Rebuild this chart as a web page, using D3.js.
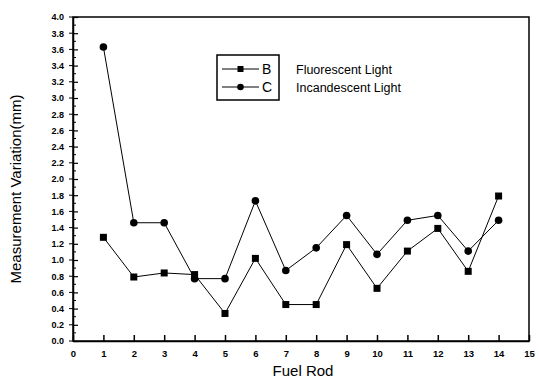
<!DOCTYPE html>
<html>
<head>
<meta charset="utf-8">
<script src="https://cdn.jsdelivr.net/npm/d3@7"></script>
<style>
  body { margin: 0; background: #fff; }
  text { font-family: Arial, "Liberation Sans", sans-serif; }
</style>
</head>
<body>
<svg id="chart" width="539" height="382"></svg>
<script>
// data
var rods = [1, 2, 3, 4, 5, 6, 7, 8, 9, 10, 11, 12, 13, 14];
var fluorescent = [1.28, 0.79, 0.84, 0.82, 0.34, 1.02, 0.45, 0.45, 1.19, 0.65, 1.11, 1.39, 0.86, 1.79];
var incandescent = [3.63, 1.46, 1.46, 0.77, 0.77, 1.73, 0.87, 1.15, 1.55, 1.07, 1.49, 1.55, 1.11, 1.49];
var xTicks = d3.range(0, 16);
var yTicks = d3.range(0, 4.01, 0.2);

var margin = {top: 17, right: 10, bottom: 41, left: 73};
var width = 539, height = 382;

var svg = d3.select("#chart");

var x = d3.scaleLinear().domain([0, 15]).range([margin.left, width - margin.right]);
var y = d3.scaleLinear().domain([0, 4]).range([height - margin.bottom, margin.top]);

// frame
svg.append("rect")
  .attr("x", x(0)).attr("y", y(4))
  .attr("width", x(15) - x(0)).attr("height", y(0) - y(4))
  .attr("fill", "none").attr("stroke", "#000").attr("stroke-width", 1.5);

// x axis, ticks pointing in
var xAxis = svg.append("g")
  .attr("transform", "translate(0," + y(0) + ")")
  .call(d3.axisBottom(x).tickValues(xTicks).tickSizeInner(-6).tickSizeOuter(0).tickPadding(9).tickFormat(d3.format("d")));
xAxis.select(".domain").attr("stroke-width", 1.5);
xAxis.selectAll(".tick line").attr("stroke-width", 1.5);
xAxis.selectAll("text").attr("font-size", 9.5).attr("font-weight", "bold").attr("fill", "#000");

// y axis
var yAxis = svg.append("g")
  .attr("transform", "translate(" + x(0) + ",0)")
  .call(d3.axisLeft(y).tickValues(yTicks).tickSizeInner(-5).tickSizeOuter(0).tickPadding(9).tickFormat(d3.format(".1f")));
yAxis.select(".domain").attr("stroke-width", 1.5);
yAxis.selectAll(".tick line").attr("stroke-width", 1.2);
yAxis.selectAll("text").attr("font-size", 9).attr("font-weight", "bold").attr("fill", "#000");

// minor y ticks
svg.append("g").selectAll("line")
  .data(d3.range(0.1, 4, 0.2))
  .enter().append("line")
  .attr("x1", x(0)).attr("x2", x(0) + 3)
  .attr("y1", function(d) { return y(d); })
  .attr("y2", function(d) { return y(d); })
  .attr("stroke", "#000");

// outer small tick marks on left of y axis
svg.append("g").selectAll("line")
  .data(yTicks)
  .enter().append("line")
  .attr("x1", x(0) - 4).attr("x2", x(0))
  .attr("y1", function(d) { return y(d); })
  .attr("y2", function(d) { return y(d); })
  .attr("stroke", "#000");

// axis titles
svg.append("text")
  .attr("x", (x(0) + x(15)) / 2 + 2).attr("y", height - 6)
  .attr("text-anchor", "middle").attr("font-size", 15)
  .text("Fuel Rod");

svg.append("text")
  .attr("transform", "translate(21," + ((y(0) + y(4)) / 2 + 10) + ") rotate(-90)")
  .attr("text-anchor", "middle").attr("font-size", 15)
  .text("Measurement Variation(mm)");

var line = d3.line()
  .x(function(d, i) { return x(rods[i]); })
  .y(function(d) { return y(d); });

svg.append("path").datum(fluorescent)
  .attr("d", line).attr("fill", "none").attr("stroke", "#000").attr("stroke-width", 1);
svg.append("path").datum(incandescent)
  .attr("d", line).attr("fill", "none").attr("stroke", "#000").attr("stroke-width", 1);

svg.append("g").selectAll("rect")
  .data(fluorescent)
  .enter().append("rect")
  .attr("x", function(d, i) { return x(rods[i]) - 3.5; })
  .attr("y", function(d) { return y(d) - 3.5; })
  .attr("width", 7).attr("height", 7)
  .attr("fill", "#000");

svg.append("g").selectAll("circle")
  .data(incandescent)
  .enter().append("circle")
  .attr("cx", function(d, i) { return x(rods[i]); })
  .attr("cy", function(d) { return y(d); })
  .attr("r", 3.8)
  .attr("fill", "#000");

// legend
var legend = svg.append("g").attr("transform", "translate(217,55)");
legend.append("rect")
  .attr("width", 62).attr("height", 45)
  .attr("fill", "#fff").attr("stroke", "#000").attr("stroke-width", 1.5);

var items = [
  {key: "B", name: "Fluorescent Light", shape: "square", y: 14},
  {key: "C", name: "Incandescent Light", shape: "circle", y: 32}
];
items.forEach(function(it) {
  legend.append("line")
    .attr("x1", 5).attr("x2", 42).attr("y1", it.y).attr("y2", it.y)
    .attr("stroke", "#000");
  if (it.shape == "square") {
    legend.append("rect").attr("x", 20.5).attr("y", it.y - 3)
      .attr("width", 6).attr("height", 6).attr("fill", "#000");
  } else {
    legend.append("circle").attr("cx", 23.5).attr("cy", it.y).attr("r", 3.3).attr("fill", "#000");
  }
  legend.append("text").attr("x", 45).attr("y", it.y + 5)
    .attr("font-size", 14).text(it.key);
  legend.append("text").attr("x", 79).attr("y", it.y + 4.5)
    .attr("font-size", 12.5).text(it.name);
});
</script>
</body>
</html>
